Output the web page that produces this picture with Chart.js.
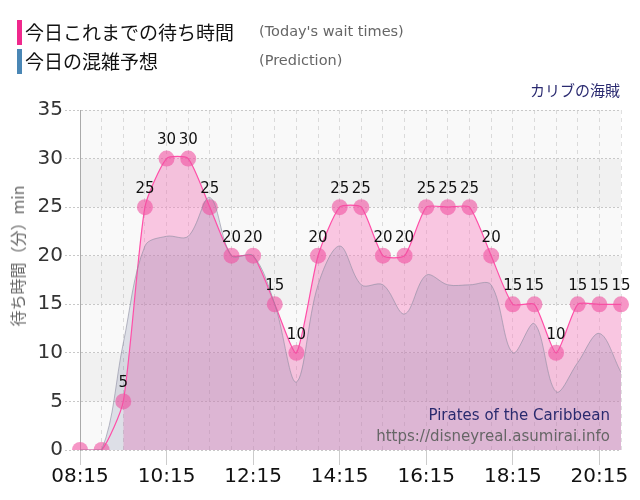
<!DOCTYPE html>
<html>
<head>
<meta charset="utf-8">
<script src="https://cdn.jsdelivr.net/npm/chart.js@4.4.0/dist/chart.umd.min.js"></script>
<style>
  body { margin: 0; background: #fff; }
  #wrap { position: relative; width: 640px; height: 500px; overflow: hidden; }
  #myChart { position: absolute; left: 0; top: 0; }
  .bar { position: absolute; left: 17px; width: 5px; height: 25px; }
  .jp { position: absolute; left: 25px; height: 25px; font: 19px "Noto Sans CJK JP"; line-height: 25px; color: #111; }
  .en { position: absolute; left: 259px; height: 25px; font: 14.5px "DejaVu Sans"; line-height: 25px; color: #666; }
  #ride { position: absolute; right: 20px; top: 80px; font: 15px "Noto Sans CJK JP"; line-height: 20px; color: #2a2a70; }
  #ytitle { position: absolute; left: 17px; top: 256px; transform: translate(-50%, -50%) rotate(-90deg); white-space: nowrap; font: 16px "Noto Sans CJK JP"; color: #666; }
  .mark { position: absolute; right: 30px; font: 15px "DejaVu Sans"; line-height: 20px; }
</style>
</head>
<body>
<div id="wrap">
  <canvas id="myChart" width="640" height="500"></canvas>
  <div class="bar" style="top:20px;background:#f0288c"></div>
  <div class="jp" style="top:19px">今日これまでの待ち時間</div>
  <div class="en" style="top:19px">(Today's wait times)</div>
  <div class="bar" style="top:49px;background:#4a87b5"></div>
  <div class="jp" style="top:48px">今日の混雑予想</div>
  <div class="en" style="top:48px">(Prediction)</div>
  <div id="ride">カリブの海賊</div>
  <div id="ytitle">待ち時間（分）min</div>
  <div class="mark" style="top:405px;color:#2a2a6e">Pirates of the Caribbean</div>
  <div class="mark" style="top:426px;color:#666">https://disneyreal.asumirai.info</div>
</div>
<script>
const times = ['08:15', '08:45', '09:15', '09:45', '10:15', '10:45', '11:15', '11:45', '12:15',
               '12:45', '13:15', '13:45', '14:15', '14:45', '15:15', '15:45', '16:15', '16:45',
               '17:15', '17:45', '18:15', '18:45', '19:15', '19:45', '20:15', '20:45'];
const waitTimes = [0, 0, 5, 25, 30, 30, 25, 20, 20, 15, 10, 20, 25, 25, 20, 20, 25, 25, 25, 20,
                   15, 15, 10, 15, 15, 15];
const prediction = [0, 0, 11, 21, 22, 22, 26, 20, 20, 15, 7, 17, 21, 17, 17, 14, 18, 17, 17, 17,
                    10, 13, 6, 9, 12, 8];
const shownLabels = ['08:15', '10:15', '12:15', '14:15', '16:15', '18:15', '20:15'];
const yTicks = [0, 5, 10, 15, 20, 25, 30, 35];

const ctx = document.getElementById('myChart');

// alternating grey bands behind the plot
const bandPlugin = {
  id: 'bands',
  beforeDraw(chart) {
    const {ctx, chartArea: a, scales: {y}} = chart;
    ctx.save();
    for (let i = 0; i < yTicks.length - 1; i++) {
      const top = y.getPixelForValue(yTicks[i + 1]);
      const bottom = y.getPixelForValue(yTicks[i]);
      ctx.fillStyle = i % 2 ? '#f1f1f1' : '#f9f9f9';
      ctx.fillRect(a.left, top, a.right - a.left, bottom - top);
    }
    ctx.restore();
  }
};

// value above each point of today's waits
const labelPlugin = {
  id: 'valueLabels',
  afterDatasetsDraw(chart) {
    const {ctx} = chart;
    const meta = chart.getDatasetMeta(1);
    ctx.save();
    ctx.font = '15px "DejaVu Sans"';
    ctx.fillStyle = '#111';
    ctx.textAlign = 'center';
    ctx.textBaseline = 'middle';
    meta.data.forEach((pt, i) => {
      if (waitTimes[i] > 0) ctx.fillText(waitTimes[i], pt.x, pt.y - 18);
    });
    ctx.restore();
  }
};

new Chart(ctx, {
  type: 'line',
  data: {
    labels: times,
    datasets: [{
      label: 'Prediction',
      data: prediction,
      order: 0,
      borderColor: 'rgba(140,140,160,0.6)',
      borderWidth: 1,
      backgroundColor: 'rgba(110,120,160,0.2)',
      fill: 'origin',
      tension: 0.35,
      pointRadius: 0
    }, {
      label: "Today's wait times",
      data: waitTimes,
      order: 1,
      borderColor: '#ff4fa8',
      borderWidth: 1.2,
      backgroundColor: 'rgba(249,122,189,0.4)',
      fill: 'origin',
      tension: 0.2,
      pointRadius: 8,
      pointBorderWidth: 0,
      pointBackgroundColor: 'rgba(240,80,160,0.6)',
      segment: {
        backgroundColor: c => c.p0DataIndex < 2 ? 'rgba(0,0,0,0)' : undefined
      }
    }]
  },
  options: {
    responsive: false,
    animation: false,
    events: [],
    layout: { padding: { top: 110, right: 19, left: 0, bottom: 0 } },
    plugins: {
      legend: { display: false },
      tooltip: { enabled: false },
      filler: { drawTime: 'beforeDatasetsDraw' }
    },
    scales: {
      x: {
        afterFit: s => { s.height = 50; },
        border: { display: false, dash: [4, 4] },
        grid: {
          color: 'rgba(0,0,0,0.12)',
          tickLength: 15,
          tickColor: c => shownLabels.includes(times[c.index]) ? '#cccccc' : 'rgba(0,0,0,0)'
        },
        ticks: {
          autoSkip: false,
          maxRotation: 0,
          padding: 0,
          color: '#111',
          font: { family: 'DejaVu Sans', size: 20 },
          callback: (v, i) => shownLabels.includes(times[i]) ? times[i] : ''
        }
      },
      y: {
        min: 0,
        max: 35,
        afterFit: s => { s.width = 80; },
        border: { display: true, color: '#aaaaaa', dash: [2, 2] },
        grid: { color: '#c8c8c8', tickLength: 15, tickBorderDash: [2, 2] },
        ticks: {
          stepSize: 5,
          padding: 2,
          color: '#333',
          font: { family: 'DejaVu Sans', size: 20 }
        }
      }
    }
  },
  plugins: [bandPlugin, labelPlugin]
});
</script>
</body>
</html>
